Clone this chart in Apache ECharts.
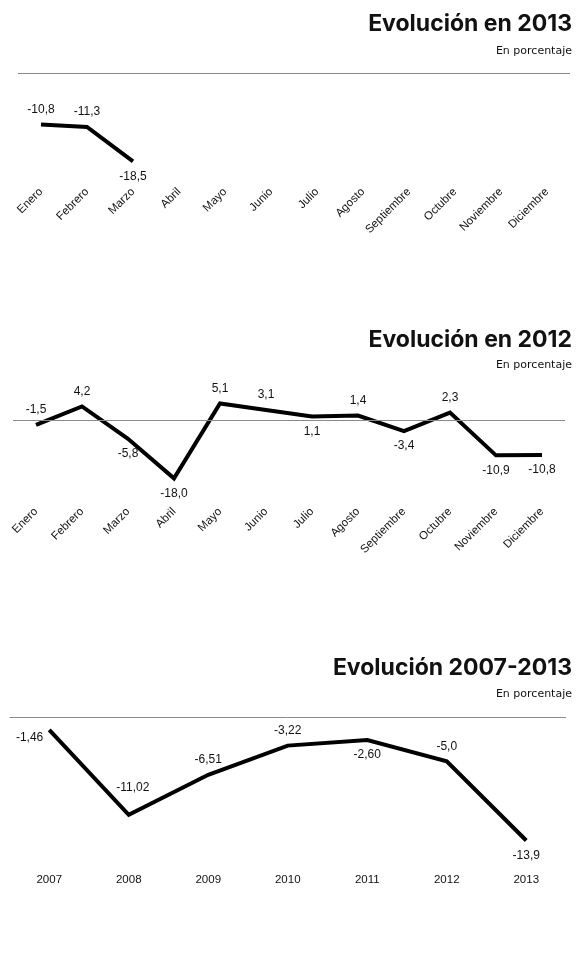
<!DOCTYPE html>
<html>
<head>
<meta charset="utf-8">
<script src="https://cdn.jsdelivr.net/npm/echarts@6/dist/echarts.min.js"></script>
<style>
  html, body { margin: 0; padding: 0; background: #fff; }
  #chart { width: 588px; height: 954px; }
</style>
</head>
<body>
<div id="chart"></div>
<script>
// datos
var meses = ['Enero', 'Febrero', 'Marzo', 'Abril', 'Mayo', 'Junio', 'Julio', 'Agosto', 'Septiembre', 'Octubre', 'Noviembre', 'Diciembre'];
var valores2013 = [-10.8, -11.3, -18.5];
var valores2012 = [-1.5, 4.2, -5.8, -18.0, 5.1, 3.1, 1.1, 1.4, -3.4, 2.3, -10.9, -10.8];
var anios = ['2007', '2008', '2009', '2010', '2011', '2012', '2013'];
var valoresAnuales = [-1.46, -11.02, -6.51, -3.22, -2.60, -5.0, -13.9];
var decimalesAnuales = [2, 2, 2, 2, 2, 1, 1];

// donde va cada etiqueta
var pos2013 = ['top', 'top', 'bottom'];
var pos2012 = ['top', 'top', 'bottom', 'bottom', 'top', 'top', 'bottom', 'top', 'bottom', 'top', 'bottom', 'bottom'];
var posAnual = ['left', 'top', 'top', 'top', 'bottom', 'top', 'bottom'];
// algunos desplazamientos a mano
var despAnual = [[0, 8], [4, -12], [0, 0], [0, 0], [0, 0], [0, 0], [0, 0]];

var fuente = 'Liberation Sans';

function fmt(v, d) {
    return v.toFixed(d).replace('.', ',');
}

function puntos(vals, pos, decs, desp) {
    return vals.map(function (v, i) {
        return {
            value: v,
            label: {
                position: pos[i],
                distance: pos[i] == 'left' ? 6 : 9,
                offset: desp ? desp[i] : [0, 0],
                formatter: fmt(v, decs ? decs[i] : 1)
            }
        };
    });
}

var lineaCero = {
    silent: true,
    symbol: 'none',
    label: { show: false },
    lineStyle: { color: '#8a8a8a', width: 1, type: 'solid' },
    data: [{ yAxis: 0 }]
};

function serie(idx, data) {
    return {
        type: 'line',
        xAxisIndex: idx,
        yAxisIndex: idx,
        data: data,
        symbol: 'circle',
        symbolSize: 0,
        showSymbol: true,
        itemStyle: { color: '#000' },
        lineStyle: { color: '#000', width: 4, join: 'miter', cap: 'butt' },
        label: { show: true, color: '#111', fontSize: 12, fontFamily: fuente },
        markLine: lineaCero,
        animation: false
    };
}

function ejeX(idx, cats, rot) {
    return {
        type: 'category',
        gridIndex: idx,
        data: cats,
        boundaryGap: true,
        axisLine: { show: false },
        axisTick: { show: false },
        axisLabel: { rotate: rot, margin: rot ? 12 : 6, color: '#111', fontSize: 11.5, fontFamily: fuente, interval: 0 }
    };
}

function ejeY(idx, min, max) {
    return { type: 'value', gridIndex: idx, min: min, max: max, show: false, splitLine: { show: false } };
}

function titulo(txt, top) {
    return { text: txt, right: 11, top: top, textStyle: { fontFamily: 'Inter', fontWeight: 'bold', fontSize: 23, color: '#111' } };
}
function subtitulo(top) {
    return { text: 'En porcentaje', right: 11, top: top, textStyle: { fontFamily: 'DejaVu Sans', fontWeight: 'normal', fontSize: 11, color: '#111' } };
}

var myChart = echarts.init(document.getElementById('chart'));
var option = {
    backgroundColor: '#fff',
    title: [
        titulo('Evolución en 2013', 8), subtitulo(41),
        titulo('Evolución en 2012', 324), subtitulo(355),
        titulo('Evolución 2007-2013', 652), subtitulo(684)
    ],
    grid: [
        { left: 18, width: 552, top: 73, height: 105 },
        { left: 13, width: 552, top: 400.6, height: 97.2 },
        { left: 9.5, width: 556.5, top: 717, height: 151 }
    ],
    xAxis: [ejeX(0, meses, 45), ejeX(1, meses, 45), ejeX(2, anios, 0)],
    yAxis: [ejeY(0, -22, 0), ejeY(1, -24, 6), ejeY(2, -17, 0)],
    series: [
        serie(0, puntos(valores2013, pos2013)),
        serie(1, puntos(valores2012, pos2012)),
        serie(2, puntos(valoresAnuales, posAnual, decimalesAnuales, despAnual))
    ]
};
myChart.setOption(option);
</script>
</body>
</html>
